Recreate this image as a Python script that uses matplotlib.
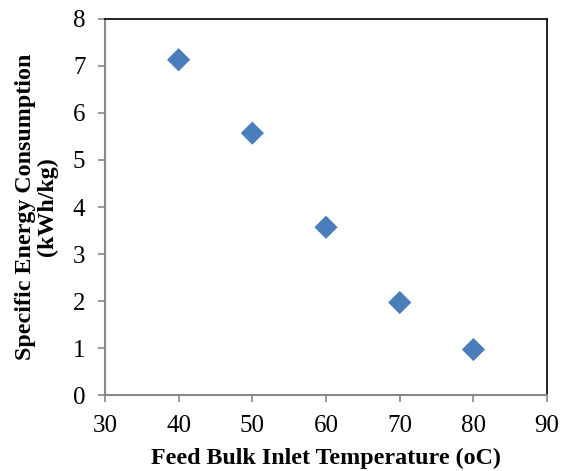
import matplotlib
matplotlib.use("Agg")
import matplotlib.pyplot as plt

temps = [40, 50, 60, 70, 80]
sec = [7.13, 5.57, 3.57, 1.97, 0.97]
xticks = [30, 40, 50, 60, 70, 80, 90]
yticks = [0, 1, 2, 3, 4, 5, 6, 7, 8]

plt.rcParams['font.family'] = ['Liberation Serif', 'DejaVu Serif']

fig = plt.figure(figsize=(5.67, 4.71), dpi=100)
ax = fig.add_axes([0.185, 0.161, 0.78, 0.799])
ax.scatter(temps, sec, marker='D', s=140, color='#4A7EBB', edgecolors='none', zorder=3)
ax.set_xlim(30, 90)
ax.set_ylim(0, 8)
ax.set_xticks(xticks)
ax.set_yticks(yticks)
ax.tick_params(axis='both', direction='out', length=5, width=1.2, color='#888888', labelsize=18)
ax.tick_params(axis='x', pad=9)
ax.tick_params(axis='y', pad=9)
for s in ['left', 'bottom']:
    ax.spines[s].set_color('#888888')
    ax.spines[s].set_linewidth(1.5)
for s in ['top', 'right']:
    ax.spines[s].set_color('black')
    ax.spines[s].set_linewidth(1.2)
ax.set_xlabel('Feed Bulk Inlet Temperature (oC)', fontsize=17.3, fontweight='bold', labelpad=8)
ax.set_ylabel('Specific Energy Consumption\n(kWh/kg)', fontsize=17.3, fontweight='bold', labelpad=11, linespacing=1.0)
fig.savefig('out.png', dpi=100)
